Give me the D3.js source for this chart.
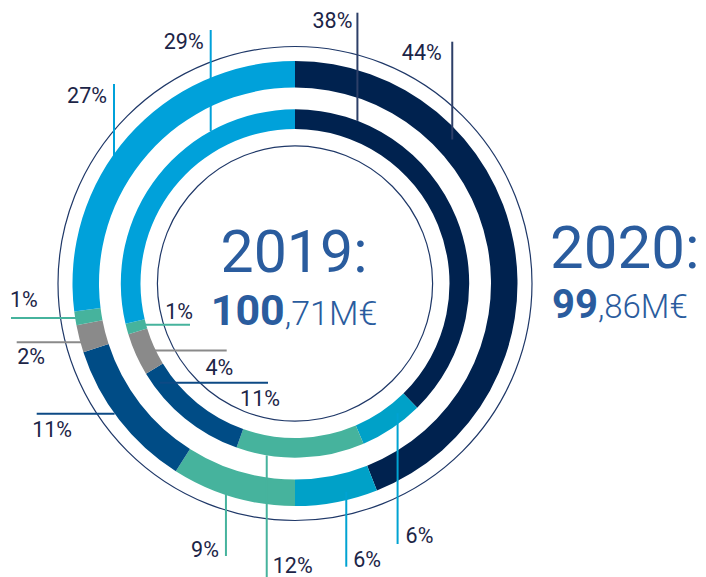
<!DOCTYPE html>
<html>
<head>
<meta charset="utf-8">
<script src="https://cdn.jsdelivr.net/npm/d3@7"></script>
<style>
  html, body { margin: 0; padding: 0; background: #ffffff; }
  svg { display: block; }
</style>
</head>
<body>
<svg id="chart" width="706" height="577"></svg>
<script>
// ---- data ----
const categories = ["Segmento 1", "Segmento 2", "Segmento 3", "Segmento 4", "Segmento 5", "Segmento 6", "Segmento 7"];
const years = ["2019", "2020"];
const values2019 = [38, 6, 12, 11, 4, 1, 29];
const values2020 = [44, 6, 9, 11, 2, 1, 27];
const totalsInt = ["100", "99"];
const totalsDec = [",71M€", ",86M€"];

// ---- styles ----
const fillColors = ["#00224f", "#00a1c8", "#46b39d", "#004c86", "#8a8a8a", "#46b39d", "#00a1da"];
const leaderColors = ["#2d3f68", "#00a3d2", "#46b39d", "#0d4a85", "#8a8a8a", "#46b39d", "#00a1da"];
const textColor = "#1c2547";
const titleColor = "#2a5c9e";
const ruleColor = "#1f3868";

// ---- layout ----
const cx = 295, cy = 283.5;
const ringRadii = { "2019": [154.5, 174.2], "2020": [196, 222.5] };
const guideRadii = [137.6, 237];

// leader lines: t = position along the segment, rf = position across the ring
const callouts = {
  "2019": [
    { i: 0, t: 0.155, rf: 1.0, dir: "up", to: 12.7, anchor: "end", dx: -5, dy: 15.3 },
    { i: 1, t: 0.29, rf: 0.55, dir: "down", to: 544, anchor: "start", dx: 8, dy: -0.7 },
    { i: 2, t: 0.76, rf: 1.0, dir: "down", to: 580, anchor: "start", dx: 6, dy: -7.5 },
    { i: 3, t: 0.87, rf: 0.67, dir: "right", to: 268, anchor: "end", dx: 12, dy: 23.7 },
    { i: 4, t: 0.42, rf: 0.15, dir: "right", to: 226.7, anchor: "end", dx: 6.6, dy: 24 },
    { i: 5, t: 0.5, rf: 0.15, dir: "right", to: 190, anchor: "end", dx: 3, dy: -6 },
    { i: 6, t: 0.72, rf: 1.0, dir: "up", to: 30, anchor: "end", dx: -7, dy: 18.7 }
  ],
  "2020": [
    { i: 0, t: 0.30, rf: 0.65, dir: "up", to: 41.7, anchor: "end", dx: -10.5, dy: 18.3 },
    { i: 1, t: 0.36, rf: 0.7, dir: "down", to: 566.7, anchor: "start", dx: 7, dy: 0 },
    { i: 2, t: 0.57, rf: 0.83, dir: "down", to: 556, anchor: "end", dx: -7, dy: 0.7 },
    { i: 3, t: 0.55, rf: 1.0, dir: "left", to: 36.7, anchor: "start", dx: -4.5, dy: 23.5 },
    { i: 4, t: 0.36, rf: 0.95, dir: "left", to: 16.7, anchor: "start", dx: 0.5, dy: 21.7 },
    { i: 5, t: 0.5, rf: 0.9, dir: "left", to: 11, anchor: "start", dx: -1, dy: -10.4 },
    { i: 6, t: 0.43, rf: 0.9, dir: "up", to: 84, anchor: "end", dx: -7, dy: 19.3 }
  ]
};

const svg = d3.select("#chart");
const g = svg.append("g").attr("transform", `translate(${cx},${cy})`);

const pie = d3.pie().sort(null).value(d => d);
const seriesByYear = { "2019": values2019, "2020": values2020 };

// thin guide circles
g.selectAll("circle.guide")
  .data(guideRadii)
  .join("circle")
  .attr("class", "guide")
  .attr("r", d => d)
  .attr("fill", "none")
  .attr("stroke", ruleColor)
  .attr("stroke-width", 1.2);

// rings
const arcsByYear = {};
years.forEach(y => {
  const [ri, ro] = ringRadii[y];
  const arcs = pie(seriesByYear[y]);
  arcsByYear[y] = arcs;
  const arc = d3.arc().innerRadius(ri).outerRadius(ro);
  g.append("g").attr("class", "ring-" + y)
    .selectAll("path")
    .data(arcs)
    .join("path")
    .attr("d", arc)
    .attr("fill", (d, i) => fillColors[i]);
});

// leader lines and percentage labels
const labelLayer = g.append("g").attr("class", "labels");
years.forEach(y => {
  const [ri, ro] = ringRadii[y];
  const arcs = arcsByYear[y];
  callouts[y].forEach(c => {
    const a = arcs[c.i];
    const ang = a.startAngle + c.t * (a.endAngle - a.startAngle);
    const r = ri + c.rf * (ro - ri);
    const x0 = r * Math.sin(ang), y0 = -r * Math.cos(ang);
    let x1 = x0, y1 = y0;
    if (c.dir === "up" || c.dir === "down") y1 = c.to - cy;
    else x1 = c.to - cx;
    labelLayer.append("line")
      .attr("x1", x0).attr("y1", y0)
      .attr("x2", x1).attr("y2", y1)
      .attr("stroke", leaderColors[c.i])
      .attr("stroke-width", 2);
    labelLayer.append("text")
      .attr("x", x1 + c.dx)
      .attr("y", y1 + c.dy)
      .attr("text-anchor", c.anchor)
      .attr("font-family", "Roboto, 'Noto Sans', sans-serif")
      .attr("font-size", 21.5)
      .attr("fill", textColor)
      .text(seriesByYear[y][c.i] + "%");
  });
});

// totals
const font = "Roboto, 'Noto Sans', sans-serif";
// 2019 in the centre
svg.append("text")
  .attr("x", cx - 1).attr("y", 271.7)
  .attr("text-anchor", "middle")
  .attr("font-family", font).attr("font-size", 59).attr("font-weight", 400)
  .attr("fill", titleColor)
  .text(years[0] + ":");
const t19 = svg.append("text")
  .attr("x", cx - 1).attr("y", 325)
  .attr("text-anchor", "middle")
  .attr("font-family", font)
  .attr("fill", titleColor);
t19.append("tspan").attr("font-size", 43).attr("font-weight", 700).text(totalsInt[0]);
t19.append("tspan").attr("font-size", 34).attr("font-weight", 300).text(totalsDec[0]);

// 2020 on the right
svg.append("text")
  .attr("x", 550).attr("y", 268.3)
  .attr("font-family", font).attr("font-size", 60).attr("font-weight", 400)
  .attr("fill", titleColor)
  .text(years[1] + ":");
const t20 = svg.append("text")
  .attr("x", 552).attr("y", 318.3)
  .attr("font-family", font)
  .attr("fill", titleColor);
t20.append("tspan").attr("font-size", 40).attr("font-weight", 700).text(totalsInt[1]);
t20.append("tspan").attr("font-size", 33).attr("font-weight", 300).text(totalsDec[1]);
</script>
</body>
</html>
